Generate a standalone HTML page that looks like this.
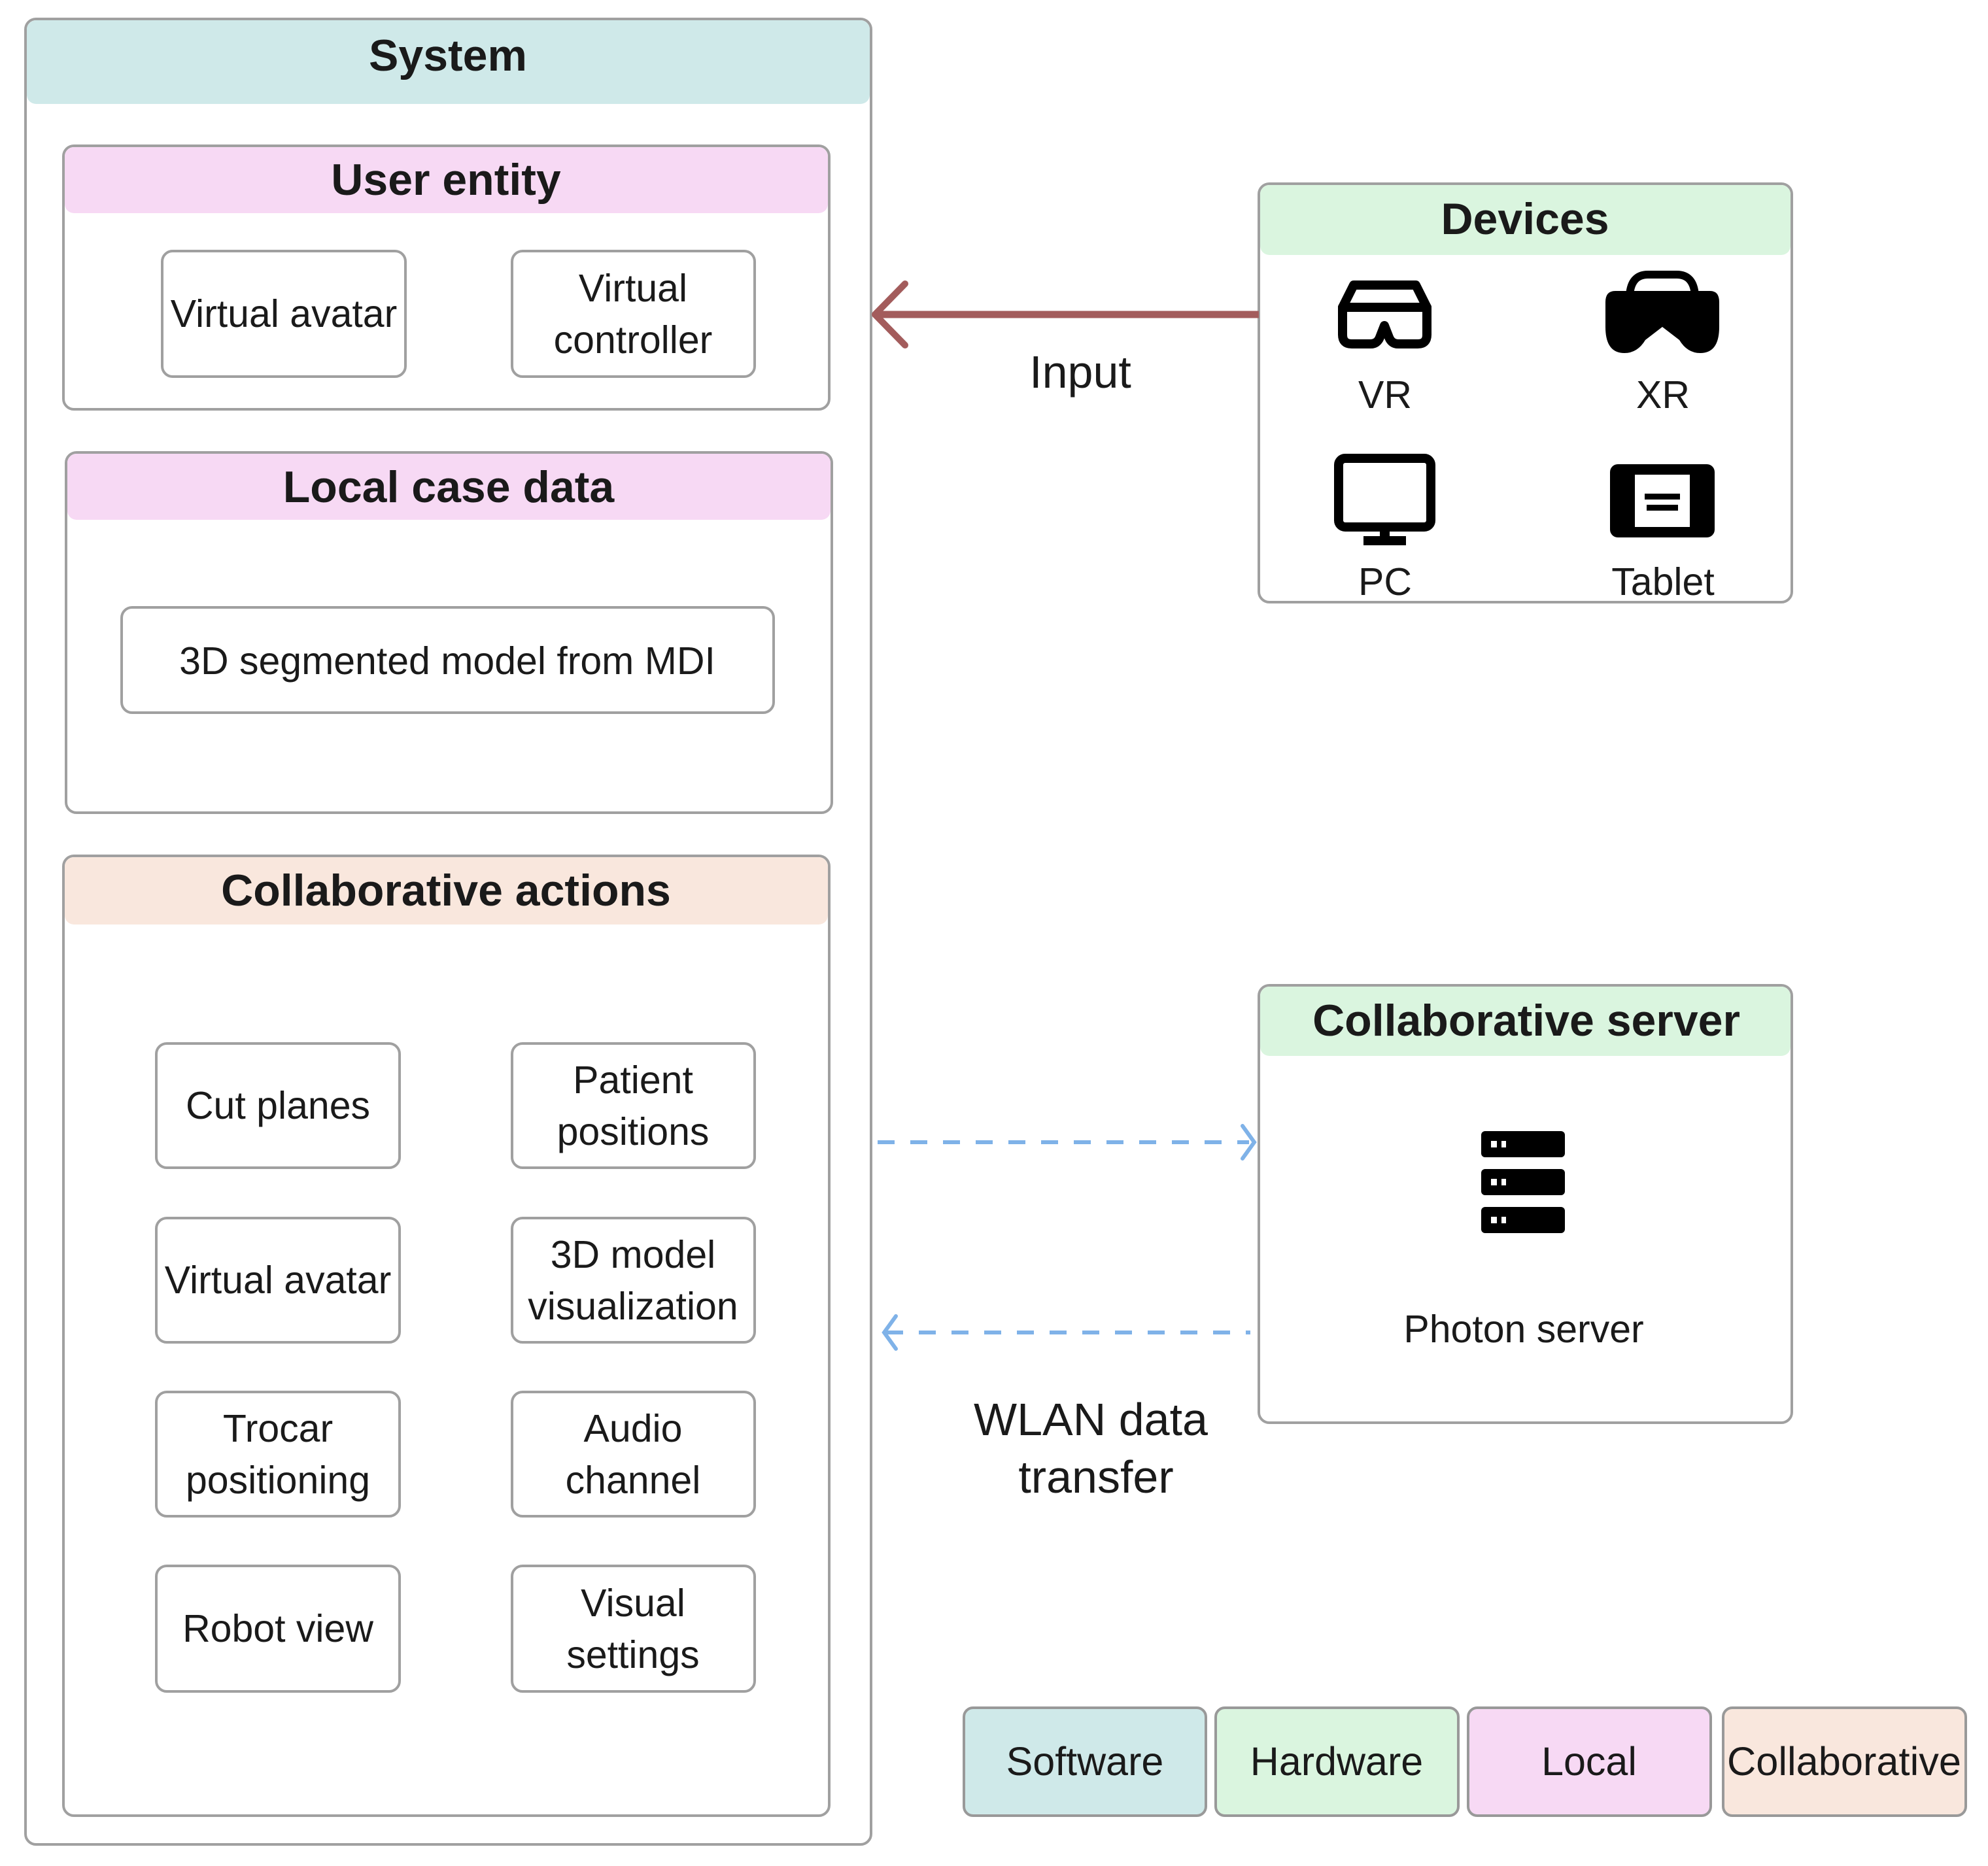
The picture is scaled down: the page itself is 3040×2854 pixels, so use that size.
<!DOCTYPE html>
<html><head><meta charset="utf-8"><style>
html,body{margin:0;padding:0;background:#fff;}
svg{display:block;}
text{font-family:"Liberation Sans",sans-serif;fill:#1a1a1a;}
.h{font-weight:bold;font-size:68px;}
.t{font-size:59px;}
</style></head><body>
<svg width="3040" height="2854" viewBox="0 0 3040 2854" xmlns="http://www.w3.org/2000/svg">
<!-- System -->
<rect x="39" y="29" width="1293" height="2792" rx="16" fill="#fff" stroke="#a0a0a0" stroke-width="4"/>
<rect x="41" y="31" width="1289" height="128" rx="14" fill="#cfe9e9"/>
<text class="h" x="685" y="108" text-anchor="middle">System</text>

<!-- User entity -->
<rect x="97" y="223" width="1171" height="403" rx="16" fill="#fff" stroke="#a0a0a0" stroke-width="4"/>
<rect x="99" y="225" width="1167" height="101" rx="14" fill="#f7d9f4"/>
<text class="h" x="682" y="298" text-anchor="middle">User entity</text>
<rect x="248" y="384" width="372" height="192" rx="16" fill="#fff" stroke="#a0a0a0" stroke-width="4"/>
<text class="t" x="434" y="500" text-anchor="middle">Virtual avatar</text>
<rect x="783" y="384" width="371" height="192" rx="16" fill="#fff" stroke="#a0a0a0" stroke-width="4"/>
<text class="t" x="968" y="461" text-anchor="middle">Virtual</text>
<text class="t" x="968" y="540" text-anchor="middle">controller</text>

<!-- Local case data -->
<rect x="101" y="692" width="1171" height="551" rx="16" fill="#fff" stroke="#a0a0a0" stroke-width="4"/>
<rect x="103" y="694" width="1167" height="101" rx="14" fill="#f7d9f4"/>
<text class="h" x="686" y="768" text-anchor="middle">Local case data</text>
<rect x="186" y="929" width="997" height="161" rx="16" fill="#fff" stroke="#a0a0a0" stroke-width="4"/>
<text class="t" x="684" y="1031" text-anchor="middle">3D segmented model from MDI</text>

<!-- Collaborative actions -->
<rect x="97" y="1309" width="1171" height="1468" rx="16" fill="#fff" stroke="#a0a0a0" stroke-width="4"/>
<rect x="99" y="1311" width="1167" height="103" rx="14" fill="#f9e7dd"/>
<text class="h" x="682" y="1385" text-anchor="middle">Collaborative actions</text>

<g>
<rect x="239" y="1596" width="372" height="190" rx="16" fill="#fff" stroke="#a0a0a0" stroke-width="4"/>
<text class="t" x="425" y="1711" text-anchor="middle">Cut planes</text>
<rect x="783" y="1596" width="371" height="190" rx="16" fill="#fff" stroke="#a0a0a0" stroke-width="4"/>
<text class="t" x="968" y="1672" text-anchor="middle">Patient</text>
<text class="t" x="968" y="1751" text-anchor="middle">positions</text>

<rect x="239" y="1863" width="372" height="190" rx="16" fill="#fff" stroke="#a0a0a0" stroke-width="4"/>
<text class="t" x="425" y="1978" text-anchor="middle">Virtual avatar</text>
<rect x="783" y="1863" width="371" height="190" rx="16" fill="#fff" stroke="#a0a0a0" stroke-width="4"/>
<text class="t" x="968" y="1939" text-anchor="middle">3D model</text>
<text class="t" x="968" y="2018" text-anchor="middle">visualization</text>

<rect x="239" y="2129" width="372" height="190" rx="16" fill="#fff" stroke="#a0a0a0" stroke-width="4"/>
<text class="t" x="425" y="2205" text-anchor="middle">Trocar</text>
<text class="t" x="425" y="2284" text-anchor="middle">positioning</text>
<rect x="783" y="2129" width="371" height="190" rx="16" fill="#fff" stroke="#a0a0a0" stroke-width="4"/>
<text class="t" x="968" y="2205" text-anchor="middle">Audio</text>
<text class="t" x="968" y="2284" text-anchor="middle">channel</text>

<rect x="239" y="2395" width="372" height="192" rx="16" fill="#fff" stroke="#a0a0a0" stroke-width="4"/>
<text class="t" x="425" y="2511" text-anchor="middle">Robot view</text>
<rect x="783" y="2395" width="371" height="192" rx="16" fill="#fff" stroke="#a0a0a0" stroke-width="4"/>
<text class="t" x="968" y="2472" text-anchor="middle">Visual</text>
<text class="t" x="968" y="2551" text-anchor="middle">settings</text>
</g>

<!-- Devices -->
<rect x="1925" y="281" width="815" height="640" rx="16" fill="#fff" stroke="#a0a0a0" stroke-width="4"/>
<rect x="1927" y="283" width="811" height="107" rx="14" fill="#daf5df"/>
<text class="h" x="2332" y="358" text-anchor="middle">Devices</text>

<!-- VR icon -->
<g fill="none" stroke="#000" stroke-width="14" stroke-linejoin="round">
<path d="M2070 436 L2165 436 L2182 470 L2053 470 Z"/>
<path d="M2053 470 L2182 470 L2182 512 Q2182 526 2168 526 L2138 526 Q2128 526 2124 516 L2117 498 L2110 516 Q2106 526 2096 526 L2067 526 Q2053 526 2053 512 Z"/>
</g>
<!-- XR icon -->
<path d="M2492 452 Q2494 420 2520 420 L2564 420 Q2590 420 2592 452" fill="none" stroke="#000" stroke-width="12"/>
<path d="M2470 445 L2615 445 Q2629 445 2629 462 L2629 500 Q2629 540 2600 540 Q2580 540 2568 520 L2542 500 L2516 520 Q2504 540 2484 540 Q2455 540 2455 500 L2455 462 Q2455 445 2470 445 Z" fill="#000"/>
<!-- PC icon -->
<rect x="2047" y="701" width="141" height="105" rx="10" fill="none" stroke="#000" stroke-width="14"/>
<rect x="2110" y="806" width="15" height="20" fill="#000"/>
<rect x="2085" y="820" width="65" height="14" fill="#000"/>
<!-- Tablet icon -->
<rect x="2462" y="710" width="160" height="112" rx="12" fill="#000"/>
<rect x="2500" y="726" width="84" height="80" fill="#fff"/>
<rect x="2515" y="755" width="54" height="9" fill="#000"/>
<rect x="2518" y="772" width="48" height="9" fill="#000"/>

<text class="t" x="2118" y="624" text-anchor="middle">VR</text>
<text class="t" x="2543" y="624" text-anchor="middle">XR</text>
<text class="t" x="2118" y="910" text-anchor="middle">PC</text>
<text class="t" x="2543" y="910" text-anchor="middle">Tablet</text>

<!-- Input arrow -->
<line x1="1925" y1="481" x2="1340" y2="481" stroke="#a35c5c" stroke-width="11"/>
<polyline points="1384,434 1338,481 1384,528" fill="none" stroke="#a35c5c" stroke-width="10" stroke-linecap="round" stroke-linejoin="round"/>
<text x="1652" y="593" text-anchor="middle" style="font-size:70px">Input</text>

<!-- Collaborative server -->
<rect x="1925" y="1507" width="815" height="669" rx="16" fill="#fff" stroke="#a0a0a0" stroke-width="4"/>
<rect x="1927" y="1509" width="811" height="106" rx="14" fill="#daf5df"/>
<text class="h" x="2334" y="1584" text-anchor="middle">Collaborative server</text>
<g fill="#000">
<rect x="2265" y="1730" width="128" height="40" rx="6"/>
<rect x="2265" y="1788" width="128" height="40" rx="6"/>
<rect x="2265" y="1846" width="128" height="40" rx="6"/>
</g>
<g fill="#fff">
<rect x="2280" y="1745" width="9" height="10"/><rect x="2296" y="1745" width="7" height="10"/>
<rect x="2280" y="1803" width="9" height="10"/><rect x="2296" y="1803" width="7" height="10"/>
<rect x="2280" y="1861" width="9" height="10"/><rect x="2296" y="1861" width="7" height="10"/>
</g>
<text class="t" x="2330" y="2053" text-anchor="middle">Photon server</text>

<!-- dashed arrows -->
<line x1="1342" y1="1747" x2="1910" y2="1747" stroke="#7fb2e8" stroke-width="6" stroke-dasharray="26,24"/>
<polyline points="1900,1722 1918,1747 1900,1772" fill="none" stroke="#7fb2e8" stroke-width="6" stroke-linecap="round"/>
<line x1="1355" y1="2038" x2="1912" y2="2038" stroke="#7fb2e8" stroke-width="6" stroke-dasharray="26,24"/>
<polyline points="1370,2013 1352,2038 1370,2063" fill="none" stroke="#7fb2e8" stroke-width="6" stroke-linecap="round"/>
<text x="1668" y="2195" text-anchor="middle" style="font-size:70px">WLAN data</text>
<text x="1676" y="2283" text-anchor="middle" style="font-size:70px">transfer</text>

<!-- legend -->
<rect x="1474" y="2612" width="370" height="165" rx="14" fill="#cfe9e9" stroke="#999" stroke-width="4"/>
<text class="t" x="1659" y="2715" text-anchor="middle" style="font-size:61px">Software</text>
<rect x="1859" y="2612" width="371" height="165" rx="14" fill="#daf5df" stroke="#999" stroke-width="4"/>
<text class="t" x="2044" y="2715" text-anchor="middle" style="font-size:61px">Hardware</text>
<rect x="2245" y="2612" width="371" height="165" rx="14" fill="#f7d9f4" stroke="#999" stroke-width="4"/>
<text class="t" x="2430" y="2715" text-anchor="middle" style="font-size:61px">Local</text>
<rect x="2635" y="2612" width="371" height="165" rx="14" fill="#f9e7dd" stroke="#999" stroke-width="4"/>
<text class="t" x="2820" y="2715" text-anchor="middle" style="font-size:61px" textLength="358" lengthAdjust="spacingAndGlyphs">Collaborative</text>
</svg>
</body></html>
